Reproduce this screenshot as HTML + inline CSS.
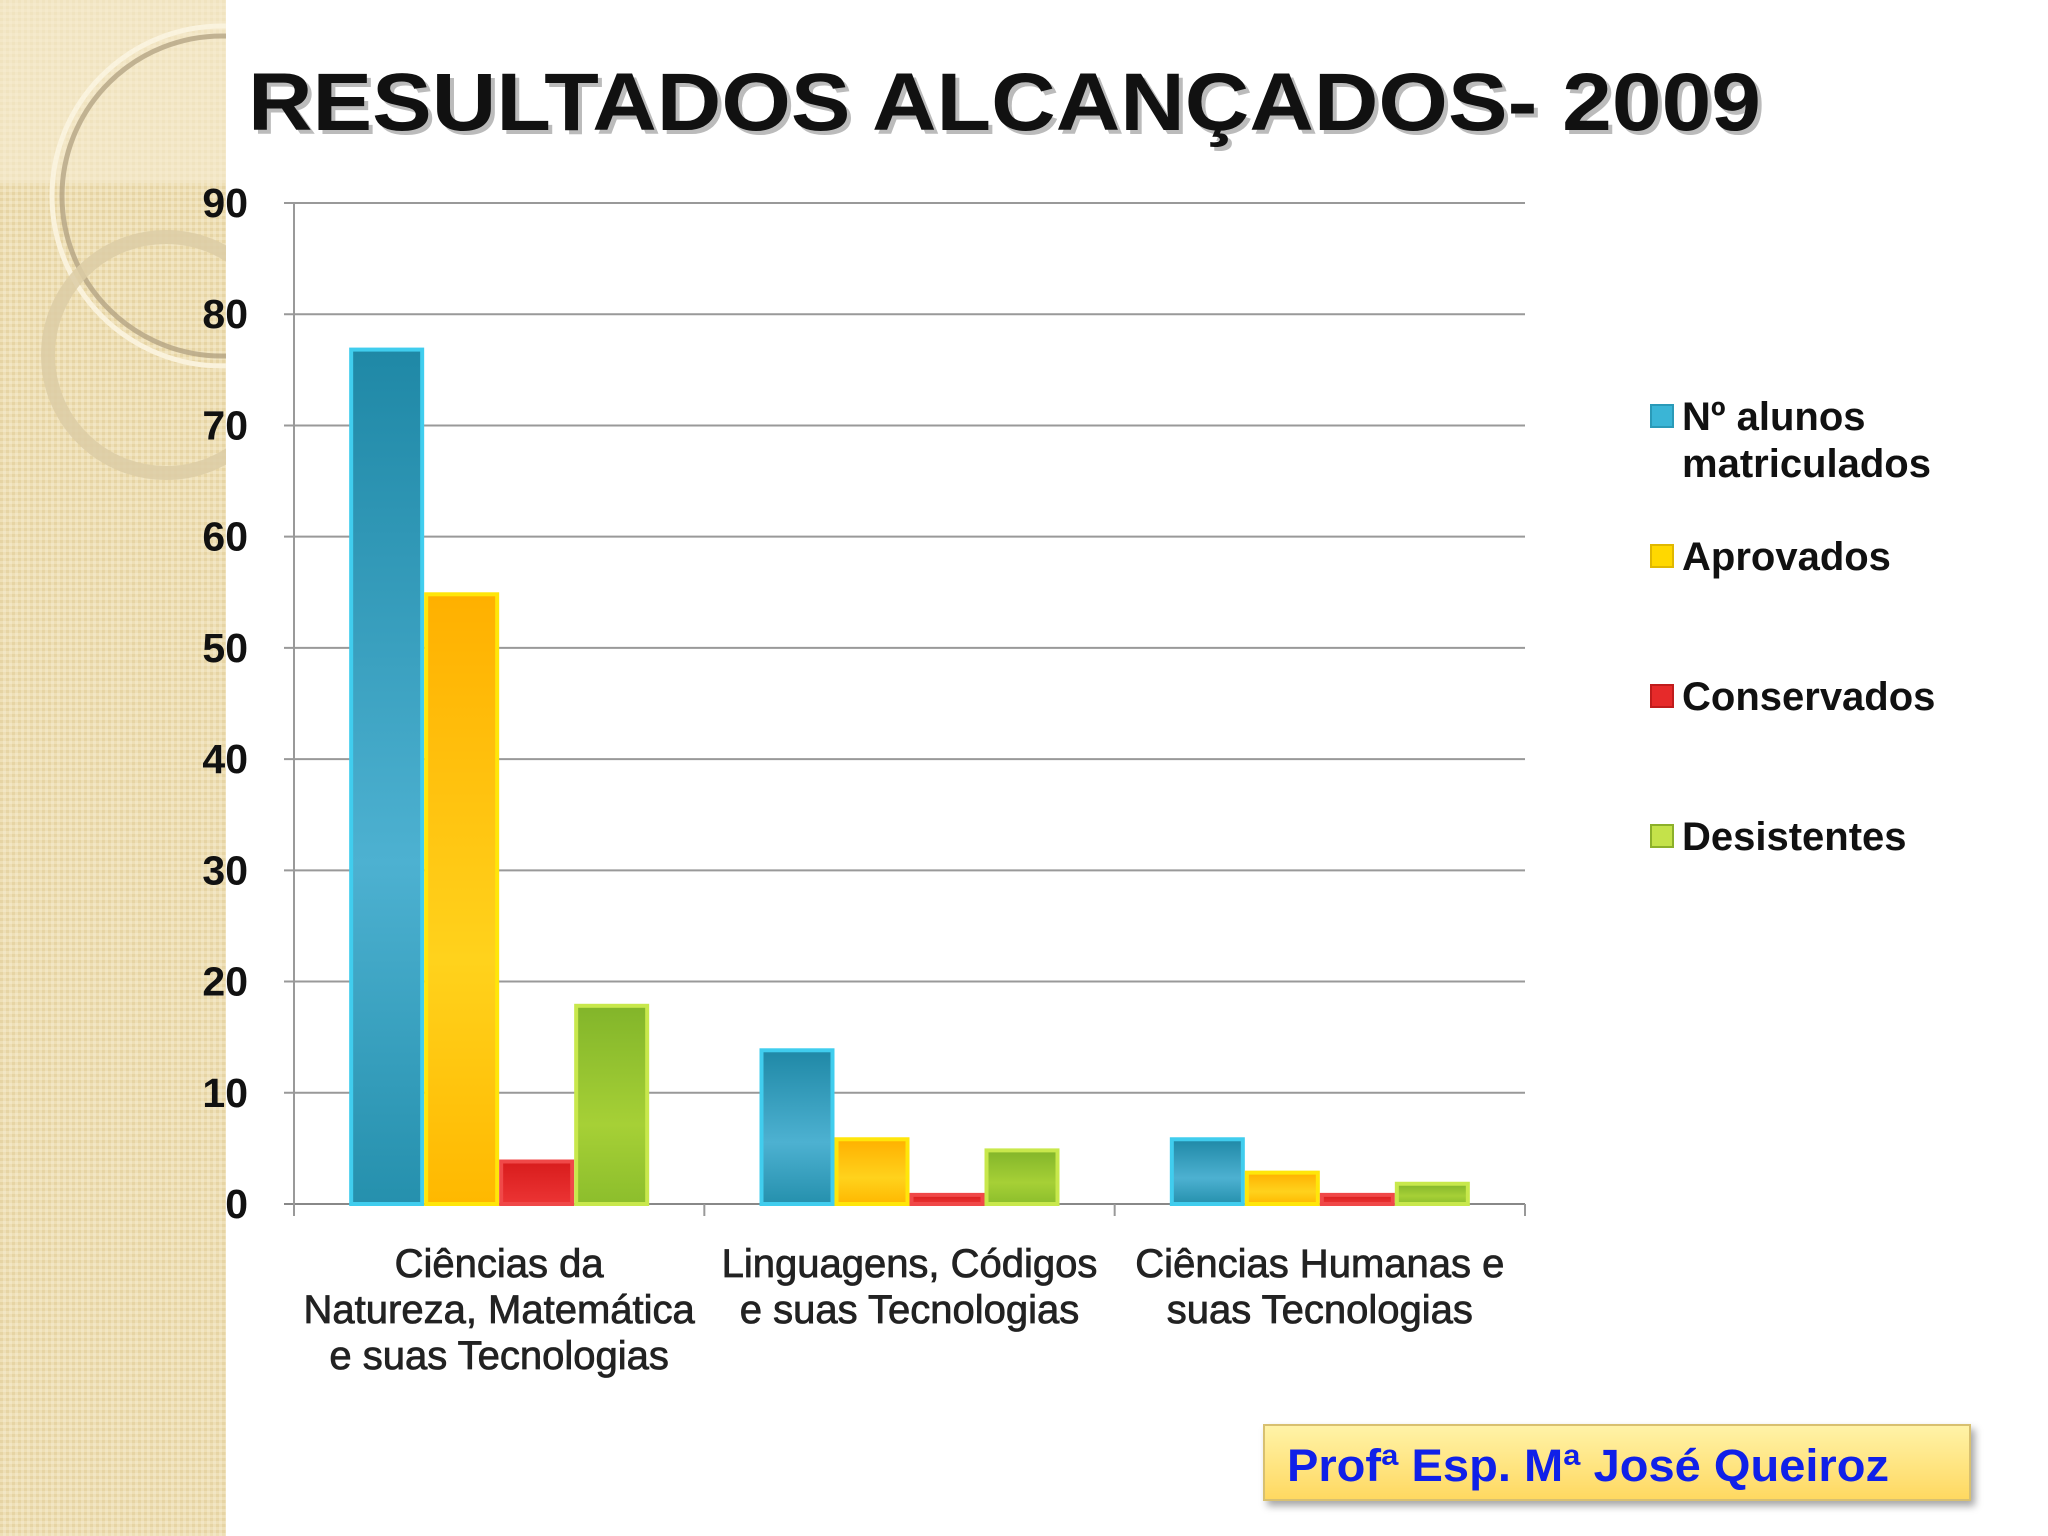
<!DOCTYPE html>
<html><head><meta charset="utf-8"><style>
html,body{margin:0;padding:0;width:2048px;height:1536px;overflow:hidden;background:#fff;}
svg{display:block;font-family:"Liberation Sans",sans-serif;}
</style></head><body>
<svg id="chart" width="2048" height="1536" viewBox="0 0 2048 1536" xmlns="http://www.w3.org/2000/svg">
<defs>
<pattern id="tex" width="6" height="6" patternUnits="userSpaceOnUse"><rect width="6" height="6" fill="#eedfb6"/><rect width="3" height="3" fill="#e6d4a4"/><rect x="3" y="3" width="3" height="3" fill="#f2e6c4"/></pattern>
<linearGradient id="gB" x1="0" y1="0" x2="0" y2="1"><stop offset="0" stop-color="#1f88a6"/><stop offset="0.6" stop-color="#4db1d1"/><stop offset="1" stop-color="#2590ad"/></linearGradient>
<linearGradient id="gY" x1="0" y1="0" x2="0" y2="1"><stop offset="0" stop-color="#ffb000"/><stop offset="0.6" stop-color="#ffd21c"/><stop offset="1" stop-color="#ffb800"/></linearGradient>
<linearGradient id="gR" x1="0" y1="0" x2="0" y2="1"><stop offset="0" stop-color="#d81c1c"/><stop offset="1" stop-color="#ec3434"/></linearGradient>
<linearGradient id="gG" x1="0" y1="0" x2="0" y2="1"><stop offset="0" stop-color="#82b52a"/><stop offset="0.6" stop-color="#a6d036"/><stop offset="1" stop-color="#8cbe2c"/></linearGradient>
<linearGradient id="gBox" x1="0" y1="0" x2="0" y2="1"><stop offset="0" stop-color="#fff3a8"/><stop offset="1" stop-color="#ffd860"/></linearGradient>
<filter id="sh" x="-5%" y="-5%" width="115%" height="130%"><feDropShadow dx="4" dy="5" stdDeviation="4" flood-color="#000" flood-opacity="0.35"/></filter>
<clipPath id="sideClip"><rect x="0" y="0" width="226" height="1536"/></clipPath>
</defs>
<g clip-path="url(#sideClip)">
<rect x="0" y="0" width="226" height="1536" fill="url(#tex)"/>
<rect x="0" y="0" width="226" height="183" fill="#f6ecd2" opacity="0.6"/>
<circle cx="222" cy="196" r="160" fill="none" stroke="#b0a080" stroke-width="5" opacity="0.75"/>
<circle cx="222" cy="196" r="170" fill="none" stroke="#fbf4e0" stroke-width="5" opacity="0.9"/>
<circle cx="166" cy="355" r="118" fill="none" stroke="#dccca6" stroke-width="14" opacity="0.85"/>
</g>
<text x="252" y="134" font-size="82" font-weight="bold" fill="#bbb" textLength="1513" lengthAdjust="spacingAndGlyphs">RESULTADOS ALCANÇADOS- 2009</text>
<text x="248" y="130" font-size="82" font-weight="bold" fill="#111" textLength="1513" lengthAdjust="spacingAndGlyphs">RESULTADOS ALCANÇADOS- 2009</text>
<g id="grid"></g><g id="bars"></g><g id="labels"></g>
<g font-size="40" font-weight="bold" fill="#111">
<rect x="1651" y="405" width="22" height="22" fill="#3ab5d6" stroke="#2a9ab8" stroke-width="2"/>
<text x="1682" y="430">Nº alunos</text>
<text x="1682" y="477">matriculados</text>
<rect x="1651" y="545" width="22" height="22" fill="#ffd800" stroke="#e0b800" stroke-width="2"/>
<text x="1682" y="570">Aprovados</text>
<rect x="1651" y="685" width="22" height="22" fill="#e62a2a" stroke="#c01c1c" stroke-width="2"/>
<text x="1682" y="710">Conservados</text>
<rect x="1651" y="825" width="22" height="22" fill="#c4e24a" stroke="#8cb02a" stroke-width="2"/>
<text x="1682" y="850">Desistentes</text>
</g>
<rect x="1264" y="1425" width="706" height="75" fill="url(#gBox)" stroke="#d8c070" stroke-width="2" filter="url(#sh)"/>
<text x="1287" y="1481" font-size="45" font-weight="bold" fill="#1020e8" textLength="602" lengthAdjust="spacingAndGlyphs">Profª Esp. Mª José Queiroz</text>
</svg>
<script>
const categories=[["Ciências da","Natureza, Matemática","e suas Tecnologias"],["Linguagens, Códigos","e suas Tecnologias"],["Ciências Humanas e","suas Tecnologias"]];
const matriculados=[77,14,6];
const aprovados=[55,6,3];
const conservados=[4,1,1];
const desistentes=[18,5,2];
const yTicks=[0,10,20,30,40,50,60,70,80,90];
const NS="http://www.w3.org/2000/svg";
const X0=294,X1=1525,Y0=1204,Y90=203;
const yScale=v=>Y0-(Y0-Y90)*v/90;
const catW=(X1-X0)/categories.length;
const barW=75,pad=(catW-4*barW)/2;
function mk(t,a,p){const e=document.createElementNS(NS,t);for(const k in a)e.setAttribute(k,a[k]);p.appendChild(e);return e;}
const grid=document.getElementById('grid'),bars=document.getElementById('bars'),labels=document.getElementById('labels');
yTicks.forEach(v=>{
  const y=yScale(v);
  const l=mk('line',{x1:X0-10,x2:X1,y1:y,y2:y,stroke:v===0?'#888':'#999','stroke-width':2},grid);
  
  
  const t=mk('text',{x:248,y:y+14,'text-anchor':'end','font-size':41,'font-weight':'bold',fill:'#111'},labels);
  t.textContent=v;
  
  
});
const ax=mk('line',{x1:X0,x2:X0,y1:Y90,y2:Y0+12,stroke:'#999','stroke-width':2},grid);


for(let i=0;i<=categories.length;i++){
  const x=X0+i*catW;
  const tk=mk('line',{x1:x,x2:x,y1:Y0,y2:Y0+12,stroke:'#999','stroke-width':2},grid);
  
  
}
const series=[[matriculados,'url(#gB)','#40cdee'],[aprovados,'url(#gY)','#ffe60a'],[conservados,'url(#gR)','#f04848'],[desistentes,'url(#gG)','#c8e84c']];
const names=['matriculados','aprovados','conservados','desistentes'];
categories.forEach((c,i)=>{
  series.forEach((s,j)=>{
    const v=s[0][i];const x=X0+i*catW+pad+j*barW;const y=yScale(v);
    const r=mk('rect',{x:x+2,y:y+2,width:barW-4,height:Math.max(Y0-y-2,1),fill:s[1],stroke:s[2],'stroke-width':4},bars);
    
    
  });
  c.forEach((ln,k)=>{
    const t=mk('text',{x:X0+(i+0.5)*catW,y:1277+k*46,'text-anchor':'middle','font-size':40,fill:'#222',stroke:'#222','stroke-width':0.8},labels);
    t.textContent=ln;
    
    
  });
});
</script>
</body></html>
